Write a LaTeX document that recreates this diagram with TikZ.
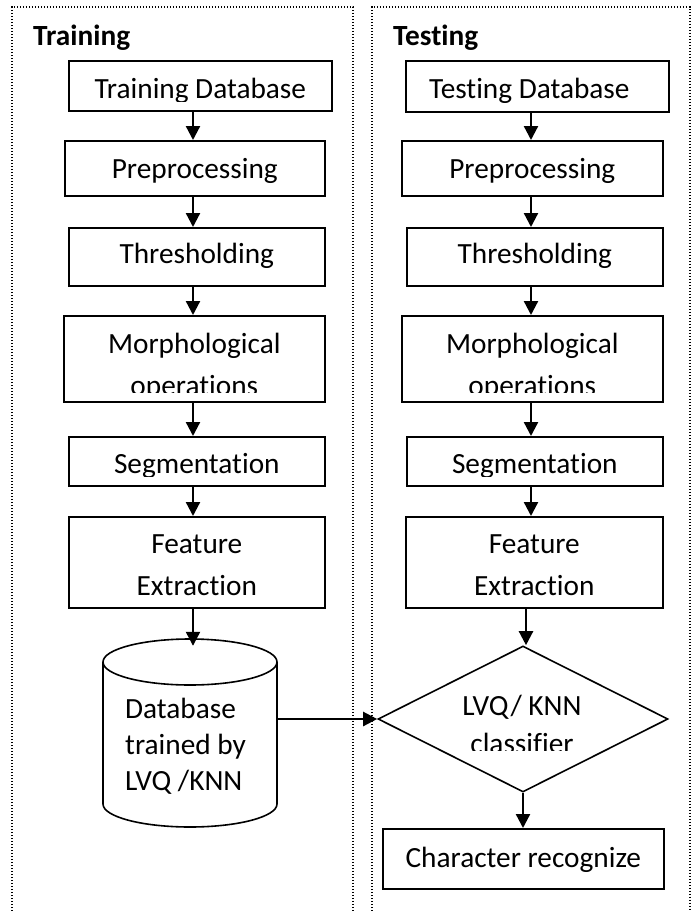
\documentclass[tikz,border=0pt]{standalone}
\usepackage{fontspec}
\setmainfont{Carlito}[Ligatures=NoCommon]
\usetikzlibrary{arrows.meta,shapes.geometric,calc}
\newcommand\boxfont{\fontsize{29.3}{42}\selectfont}
% label placed under the top edge of a box, cut off near its bottom edge;
% #4 is the drop of the last baseline below the top edge
\newcommand\cliplabel[4]{%
  \begin{scope}
    \clip (#1.north west) rectangle ([yshift=10pt]#1.south east);
    \node[lbl] (#2) at ([yshift=-#4]#1.north) {#3};
  \end{scope}}
\begin{document}
\begin{tikzpicture}[x=1pt,y=-1pt,
  stepbox/.style={draw, line width=1.6pt, inner sep=0pt, anchor=north west},
  lbl/.style={inner sep=0pt, anchor=base, font=\boxfont, align=center},
  flow/.style={line width=2.3pt, -{Triangle[width=14pt,length=14pt]}},
  frame/.style={line width=1.3pt, dash pattern=on 1.3pt off 1.7pt},
  title/.style={inner sep=0pt, anchor=base west, font=\boxfont\bfseries}]
\useasboundingbox (0,0) rectangle (700,911);

% dotted panels
\draw[frame] (12,911) -- (12,7) -- (353,7) -- (353,911);
\draw[frame] (372,911) -- (372,7) -- (690,7) -- (690,911);

\node[title] (trainT) at (33,45.5) {Training};
\node[title] (testT) at (393,45.5) {Testing};

\coordinate (colL) at (193,0);
\coordinate (colR) at (531,0);

% training column
\node[stepbox, minimum width=263pt, minimum height=50pt] (tdb) at (68,60) {};
\node[stepbox, minimum width=260pt, minimum height=55pt] (pre) at (64,140) {};
\node[stepbox, minimum width=256pt, minimum height=58pt] (thr) at (68,227) {};
\node[stepbox, minimum width=261pt, minimum height=86pt] (mor) at (63,315) {};
\node[stepbox, minimum width=256pt, minimum height=49pt] (seg) at (68,436) {};
\node[stepbox, minimum width=256pt, minimum height=91pt] (fea) at (68,516) {};
\cliplabel{tdb}{tdbT}{Training Database}{38pt}
\cliplabel{pre}{preT}{Preprocessing}{38pt}
\cliplabel{thr}{thrT}{Thresholding}{36.5pt}
\cliplabel{mor}{morT}{Morphological\\operations}{80pt}
\cliplabel{seg}{segT}{Segmentation}{37.5pt}
\cliplabel{fea}{feaT}{Feature\\Extraction}{79pt}

% trained database cylinder
\draw[line width=1.6pt, fill=white] (103,662) -- (103,804)
  arc[start angle=180, end angle=360, x radius=87pt, y radius=23pt]
  -- (277,662);
\draw[line width=1.6pt] (190,662) ellipse[x radius=87pt, y radius=23pt];
\node[inner sep=0pt, minimum width=174pt, minimum height=188pt] (db) at (190,733) {};
\node[inner sep=0pt, anchor=base west, align=left,
  font=\fontsize{29.3}{36}\selectfont] (dbT) at (125,790) {Database\\trained by\\LVQ /KNN};

% testing column
\node[stepbox, minimum width=263pt, minimum height=51pt] (tdb2) at (405,60) {};
\node[stepbox, minimum width=261pt, minimum height=55pt] (pre2) at (401,140) {};
\node[stepbox, minimum width=256pt, minimum height=58pt] (thr2) at (406,227) {};
\node[stepbox, minimum width=261pt, minimum height=86pt] (mor2) at (401,315) {};
\node[stepbox, minimum width=256pt, minimum height=49pt] (seg2) at (406,436) {};
\node[stepbox, minimum width=257pt, minimum height=91pt] (fea2) at (405,516) {};
\begin{scope}
  \clip (tdb2.north west) rectangle ([yshift=10pt]tdb2.south east);
  \node[lbl] (tdb2T) at ([yshift=-38pt,xshift=-8pt]tdb2.north) {Testing Database};
\end{scope}
\cliplabel{pre2}{pre2T}{Preprocessing}{38pt}
\cliplabel{thr2}{thr2T}{Thresholding}{36.5pt}
\cliplabel{mor2}{mor2T}{Morphological\\operations}{80pt}
\cliplabel{seg2}{seg2T}{Segmentation}{37.5pt}
\cliplabel{fea2}{fea2T}{Feature\\Extraction}{79pt}

\node[diamond, draw, line width=1.6pt, inner sep=0pt,
  minimum width=290pt, minimum height=146pt] (cls) at (523,719) {};
\begin{scope}
  \clip (378,646) rectangle (668,750);
  \node[inner sep=0pt, anchor=base, align=center,
    font=\fontsize{29.3}{38}\selectfont] (clsT) at (522,753) {LVQ/ KNN\\classifier};
\end{scope}

\node[stepbox, minimum width=281pt, minimum height=60pt] (chr) at (382,828) {};
\cliplabel{chr}{chrT}{Character recognize}{39pt}

% connectors
\draw[flow] (tdb.south -| colL) -- (pre.north -| colL);
\draw[flow] (pre.south -| colL) -- (thr.north -| colL);
\draw[flow] (thr.south -| colL) -- (mor.north -| colL);
\draw[flow] (mor.south -| colL) -- (seg.north -| colL);
\draw[flow] (seg.south -| colL) -- (fea.north -| colL);
\draw[flow] (fea.south -| colL) -- ([yshift=-7pt]db.north -| colL);

\draw[flow] (tdb2.south -| colR) -- (pre2.north -| colR);
\draw[flow] (pre2.south -| colR) -- (thr2.north -| colR);
\draw[flow] (thr2.south -| colR) -- (mor2.north -| colR);
\draw[flow] (mor2.south -| colR) -- (seg2.north -| colR);
\draw[flow] (seg2.south -| colR) -- (fea2.north -| colR);
\draw[flow] ([xshift=3pt]fea2.south -| cls.north) -- ([xshift=3pt]cls.north);
\draw[flow] (cls.south) -- (cls.south |- chr.north);

\draw[flow] (db.east |- cls.west) -- (cls.west);
\end{tikzpicture}
\end{document}
